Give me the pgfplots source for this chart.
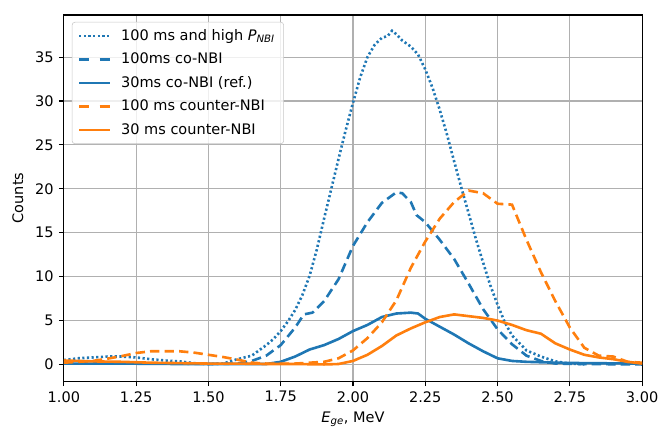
\documentclass[border=0pt]{standalone}
\usepackage{pgfplots}
\pgfplotsset{compat=1.18}
\usepackage{fontspec}
\setmainfont{DejaVu Sans}
\definecolor{cblue}{HTML}{1F77B4}
\definecolor{corange}{HTML}{FF7F0E}
\definecolor{cgrid}{HTML}{B0B0B0}

\pgfplotstableread{
x y
1.00 0.5
1.05 0.7
1.10 0.8
1.15 0.9
1.20 0.9
1.25 0.8
1.30 0.6
1.35 0.45
1.40 0.35
1.45 0.15
1.50 0.05
1.55 0.1
1.58 0.4
1.60 0.6
1.65 1.0
1.70 2.2
1.725 2.9
1.75 3.8
1.775 4.9
1.80 6.2
1.825 7.9
1.85 10.1
1.875 13.1
1.90 16.6
1.925 20.0
1.95 23.4
1.975 26.7
2.00 29.8
2.025 32.7
2.05 35.0
2.075 36.4
2.10 37.2
2.12 37.4
2.135 38.0
2.15 37.6
2.17 36.9
2.20 36.2
2.225 35.3
2.25 33.6
2.275 31.5
2.30 29.0
2.325 26.2
2.35 23.1
2.375 20.1
2.40 17.2
2.425 14.3
2.45 11.6
2.475 9.0
2.50 6.8
2.525 4.8
2.55 3.3
2.60 1.6
2.65 0.9
2.70 0.35
2.75 0.1
2.80 0.0
}\dotted

\pgfplotstableread{
x y
1.00 0.2
1.10 0.15
1.20 0.2
1.30 0.1
1.40 0.1
1.50 0.05
1.60 0.1
1.65 0.4
1.70 1.0
1.75 2.2
1.80 4.2
1.83 5.7
1.86 5.9
1.90 7.2
1.95 9.7
2.00 13.5
2.05 16.2
2.10 18.4
2.15 19.6
2.17 19.5
2.20 18.5
2.22 17.0
2.25 16.2
2.30 14.2
2.35 12.0
2.40 9.2
2.45 6.3
2.50 4.0
2.55 2.3
2.60 1.0
2.65 0.4
2.70 0.1
2.80 0.05
3.00 0.0
}\codash

\pgfplotstableread{
x y
1.00 0.1
1.20 0.1
1.40 0.05
1.60 0.05
1.70 0.05
1.75 0.3
1.80 0.9
1.85 1.7
1.90 2.2
1.95 2.9
2.00 3.8
2.05 4.5
2.10 5.4
2.15 5.8
2.20 5.9
2.225 5.8
2.25 5.2
2.30 4.3
2.35 3.4
2.40 2.4
2.45 1.5
2.50 0.7
2.55 0.4
2.60 0.3
2.70 0.2
2.80 0.15
3.00 0.1
}\coref

\pgfplotstableread{
x y
1.00 0.2
1.05 0.3
1.10 0.4
1.15 0.65
1.20 0.95
1.25 1.3
1.30 1.5
1.35 1.5
1.40 1.5
1.45 1.35
1.50 1.1
1.55 0.85
1.60 0.55
1.65 0.2
1.70 0.1
1.80 0.1
1.90 0.3
1.95 0.7
2.00 1.6
2.05 3.0
2.10 4.8
2.15 7.3
2.20 11.0
2.25 14.0
2.30 16.6
2.35 18.5
2.40 19.8
2.45 19.5
2.50 18.3
2.55 18.2
2.60 14.2
2.65 10.5
2.70 7.2
2.75 4.2
2.80 1.9
2.85 1.0
2.90 0.9
2.95 0.3
3.00 0.2
}\ctrdash

\pgfplotstableread{
x y
1.00 0.45
1.10 0.35
1.20 0.3
1.30 0.2
1.40 0.15
1.50 0.1
1.60 0.1
1.70 0.05
1.80 0.05
1.90 0.0
1.95 0.05
2.00 0.4
2.05 1.1
2.10 2.1
2.15 3.3
2.20 4.1
2.25 4.8
2.30 5.4
2.35 5.7
2.40 5.5
2.45 5.3
2.50 5.0
2.55 4.5
2.60 3.9
2.65 3.5
2.70 2.4
2.75 1.7
2.80 1.1
2.85 0.8
2.90 0.6
2.95 0.3
3.00 0.1
}\ctrref

\begin{document}
\begin{tikzpicture}
\path[use as bounding box] (-44pt,-32.4pt) rectangle (411.6pt,262.7pt);
\begin{axis}[
  at={(0,0)}, anchor=south west,
  scale only axis,
  width=398.6pt, height=252.4pt,
  xmin=1, xmax=3, ymin=-1.9, ymax=39.8,
  xtick={1,1.25,...,3.01},
  ytick={0,5,...,35},
  xticklabel style={/pgf/number format/.cd, fixed, fixed zerofill, precision=2},
  /pgf/number format/assume math mode=true,
  tick label style={font=\fontsize{10}{12}\selectfont},
  label style={font=\fontsize{10}{12}\selectfont},
  tick align=outside, tick pos=left,
  major tick length=3.5pt,
  every tick/.style={black, line width=0.8pt},
  axis line style={black, line width=0.8pt},
  grid=major,
  major grid style={cgrid, line width=0.8pt},
  xlabel={\textit{E}\textsubscript{\textit{ge}}, MeV},
  ylabel={Counts},
  xlabel style={at={(axis description cs:0.5,0)}, anchor=north, yshift=-21pt, inner sep=0pt},
  ylabel style={at={(axis description cs:-0.0795,0.5)}, anchor=center, inner sep=0pt},
  legend cell align=left,
  legend image code/.code={\draw[#1] (0pt,0pt) -- (21pt,0pt);},
  legend style={at={(0,1)}, anchor=north west, xshift=5.5pt, yshift=-4.8pt,
    font=\fontsize{10}{12}\selectfont, draw=cgrid!70, rounded corners=2pt,
    fill=white, fill opacity=0.8, text opacity=1, draw opacity=1,
    row sep=3.2pt, inner xsep=4pt, inner ysep=3pt,
    /tikz/every odd column/.append style={column sep=5pt}},
]
\addplot[cblue, line width=1.8pt, dash pattern=on 1.5pt off 1.7pt] table {\dotted};
\addlegendentry{100 ms and high \textit{P}\textsubscript{\textit{NBI}}}
\addplot[cblue, line width=1.8pt, dash pattern=on 6.5pt off 3.5pt,
  legend image post style={dash pattern=on 7pt off 7pt}] table {\codash};
\addlegendentry{100ms co-NBI}
\addplot[cblue, line width=1.8pt] table {\coref};
\addlegendentry{30ms co-NBI (ref.)}
\addplot[corange, line width=1.8pt, dash pattern=on 6.5pt off 3.5pt,
  legend image post style={dash pattern=on 7pt off 7pt}] table {\ctrdash};
\addlegendentry{100 ms counter-NBI}
\addplot[corange, line width=1.8pt] table {\ctrref};
\addlegendentry{30 ms counter-NBI}
\end{axis}
\end{tikzpicture}
\end{document}
